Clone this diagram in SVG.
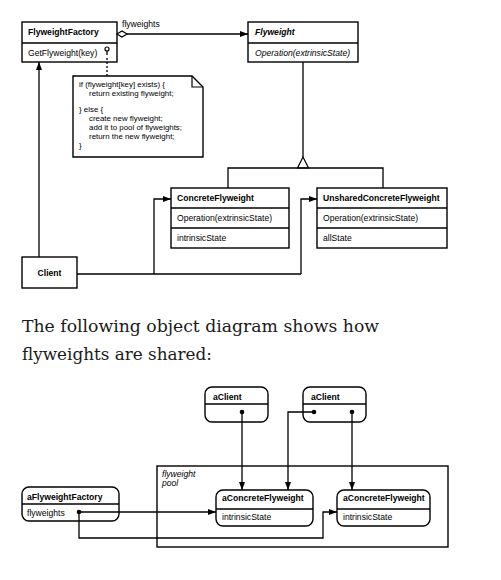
<svg xmlns="http://www.w3.org/2000/svg" width="501" height="580" viewBox="0 0 501 580">
<defs>
<marker id="arr" markerUnits="userSpaceOnUse" markerWidth="8" markerHeight="6" refX="8" refY="3" orient="auto">
<path d="M0,0 L8,3 L0,6 z" fill="#000"/>
</marker>
<style>
.box{fill:#fff;stroke:#000;stroke-width:1.4}
.ln{fill:none;stroke:#000;stroke-width:1.3}
.t{font-family:"Liberation Sans",Arial,sans-serif;font-size:8.6px;fill:#000}
.n{font-family:"Liberation Sans",Arial,sans-serif;font-size:7.9px;fill:#000}
.b{font-weight:bold}
.i{font-style:italic}
.prose{font-family:"DejaVu Serif",Georgia,serif;font-size:17px;fill:#1a1a1a}
</style>
</defs>
<rect width="501" height="580" fill="#fff"/>

<g id="FlyweightFactory">
<rect class="box" x="22" y="22" width="95" height="40"/>
<line class="ln" x1="22" y1="43" x2="117" y2="43"/>
<text class="t b" x="28" y="35">FlyweightFactory</text>
<text class="t" x="28" y="56">GetFlyweight(key)</text>
</g>

<g id="Flyweight">
<rect class="box" x="248" y="22" width="110" height="40"/>
<line class="ln" x1="248" y1="43" x2="358" y2="43"/>
<text class="t b i" x="255" y="35">Flyweight</text>
<text class="t i" x="255" y="56">Operation(extrinsicState)</text>
</g>

<g id="note">
<path d="M73,76 H192 L203,87 V157 H73 Z" fill="#fff" stroke="#000" stroke-width="1.4"/>
<path d="M192,76 V87 H203" fill="none" stroke="#000" stroke-width="1.2"/>
<text class="n" x="79" y="87">if (flyweight[key] exists) {</text>
<text class="n" x="89" y="96">return existing flyweight;</text>
<text class="n" x="79" y="112">} else {</text>
<text class="n" x="89" y="121">create new flyweight;</text>
<text class="n" x="89" y="130">add it to pool of flyweights;</text>
<text class="n" x="89" y="139">return the new flyweight;</text>
<text class="n" x="79" y="148">}</text>
</g>

<g id="ConcreteFlyweight">
<rect class="box" x="171" y="188" width="118" height="60"/>
<line class="ln" x1="171" y1="208" x2="289" y2="208"/>
<line class="ln" x1="171" y1="228" x2="289" y2="228"/>
<text class="t b" x="177" y="201">ConcreteFlyweight</text>
<text class="t" x="177" y="221">Operation(extrinsicState)</text>
<text class="t" x="177" y="241">intrinsicState</text>
</g>

<g id="UnsharedConcreteFlyweight">
<rect class="box" x="317" y="188" width="130" height="60"/>
<line class="ln" x1="317" y1="208" x2="447" y2="208"/>
<line class="ln" x1="317" y1="228" x2="447" y2="228"/>
<text class="t b" x="323" y="201">UnsharedConcreteFlyweight</text>
<text class="t" x="323" y="221">Operation(extrinsicState)</text>
<text class="t" x="323" y="241">allState</text>
</g>

<g id="Client">
<rect class="box" x="22" y="257" width="55" height="31"/>
<text class="t b" x="49.5" y="276" text-anchor="middle">Client</text>
</g>

<g id="prose">
<text class="prose" x="22" y="332" textLength="357" lengthAdjust="spacingAndGlyphs">The following object diagram shows how</text>
<text class="prose" x="22" y="360" textLength="190" lengthAdjust="spacingAndGlyphs">flyweights are shared:</text>
</g>

<g id="pool">
<rect x="157" y="466" width="291" height="81" fill="none" stroke="#000" stroke-width="1.4"/>
<text class="t i" x="162" y="477">flyweight</text>
<text class="t i" x="162" y="486">pool</text>
</g>

<g id="aClient1">
<rect class="box" x="205" y="387" width="63" height="35" rx="7"/>
<line class="ln" x1="205" y1="404" x2="268" y2="404"/>
<text class="t b" x="213" y="400">aClient</text>
</g>

<g id="aClient2">
<rect class="box" x="303" y="387" width="63" height="35" rx="7"/>
<line class="ln" x1="303" y1="404" x2="366" y2="404"/>
<text class="t b" x="311" y="400">aClient</text>
</g>

<g id="aFlyweightFactory">
<rect class="box" x="22" y="487" width="97" height="34" rx="7"/>
<line class="ln" x1="22" y1="504" x2="119" y2="504"/>
<text class="t b" x="27" y="500">aFlyweightFactory</text>
<text class="t" x="27" y="516">flyweights</text>
</g>

<g id="aConcreteFlyweight1">
<rect class="box" x="216" y="490" width="97" height="36" rx="7"/>
<line class="ln" x1="216" y1="509" x2="313" y2="509"/>
<text class="t b" x="222" y="501">aConcreteFlyweight</text>
<text class="t" x="222" y="520">intrinsicState</text>
</g>

<g id="aConcreteFlyweight2">
<rect class="box" x="337" y="490" width="93" height="36" rx="7"/>
<line class="ln" x1="337" y1="509" x2="430" y2="509"/>
<text class="t b" x="343" y="501">aConcreteFlyweight</text>
<text class="t" x="343" y="520">intrinsicState</text>
</g>

<g id="connectors">
<!-- factory -> flyweight association -->
<line class="ln" x1="127" y1="34" x2="248" y2="34" marker-end="url(#arr)"/>
<polygon points="117,34 122,31 127,34 122,37" fill="#fff" stroke="#000" stroke-width="1.2"/>
<text class="t" x="122" y="27">flyweights</text>
<!-- note anchor -->
<circle cx="107" cy="49" r="2" fill="#fff" stroke="#000" stroke-width="1.2"/>
<line class="ln" x1="107" y1="51" x2="107" y2="55"/>
<line x1="107" y1="58" x2="107" y2="76" stroke="#000" stroke-width="1.3" stroke-dasharray="2,2"/>
<!-- inheritance -->
<line class="ln" x1="303" y1="62" x2="303" y2="157"/>
<polygon points="303,157 297.5,168 308.5,168" fill="#fff" stroke="#000" stroke-width="1.2"/>
<polyline class="ln" points="228,188 228,168 383,168 383,188"/>
<!-- client -> factory -->
<line class="ln" x1="39" y1="257" x2="39" y2="62" marker-end="url(#arr)"/>
<!-- client -> concrete / unshared -->
<line class="ln" x1="77" y1="274" x2="301" y2="274"/>
<polyline class="ln" points="154,274 154,199 171,199" marker-end="url(#arr)"/>
<polyline class="ln" points="301,274 301,199 317,199" marker-end="url(#arr)"/>
<!-- object diagram -->
<line class="ln" x1="242" y1="412" x2="242" y2="490" marker-end="url(#arr)"/>
<polyline class="ln" points="314,412 288,412 288,490" marker-end="url(#arr)"/>
<line class="ln" x1="352" y1="412" x2="352" y2="490" marker-end="url(#arr)"/>
<line class="ln" x1="79" y1="512" x2="216" y2="512" marker-end="url(#arr)"/>
<polyline class="ln" points="79,512 79,538 323,538 323,512 337,512" marker-end="url(#arr)"/>
<circle cx="242" cy="412" r="2.3" fill="#000"/>
<circle cx="314" cy="412" r="2.3" fill="#000"/>
<circle cx="352" cy="412" r="2.3" fill="#000"/>
<circle cx="79" cy="512" r="2.3" fill="#000"/>
</g>
</svg>
